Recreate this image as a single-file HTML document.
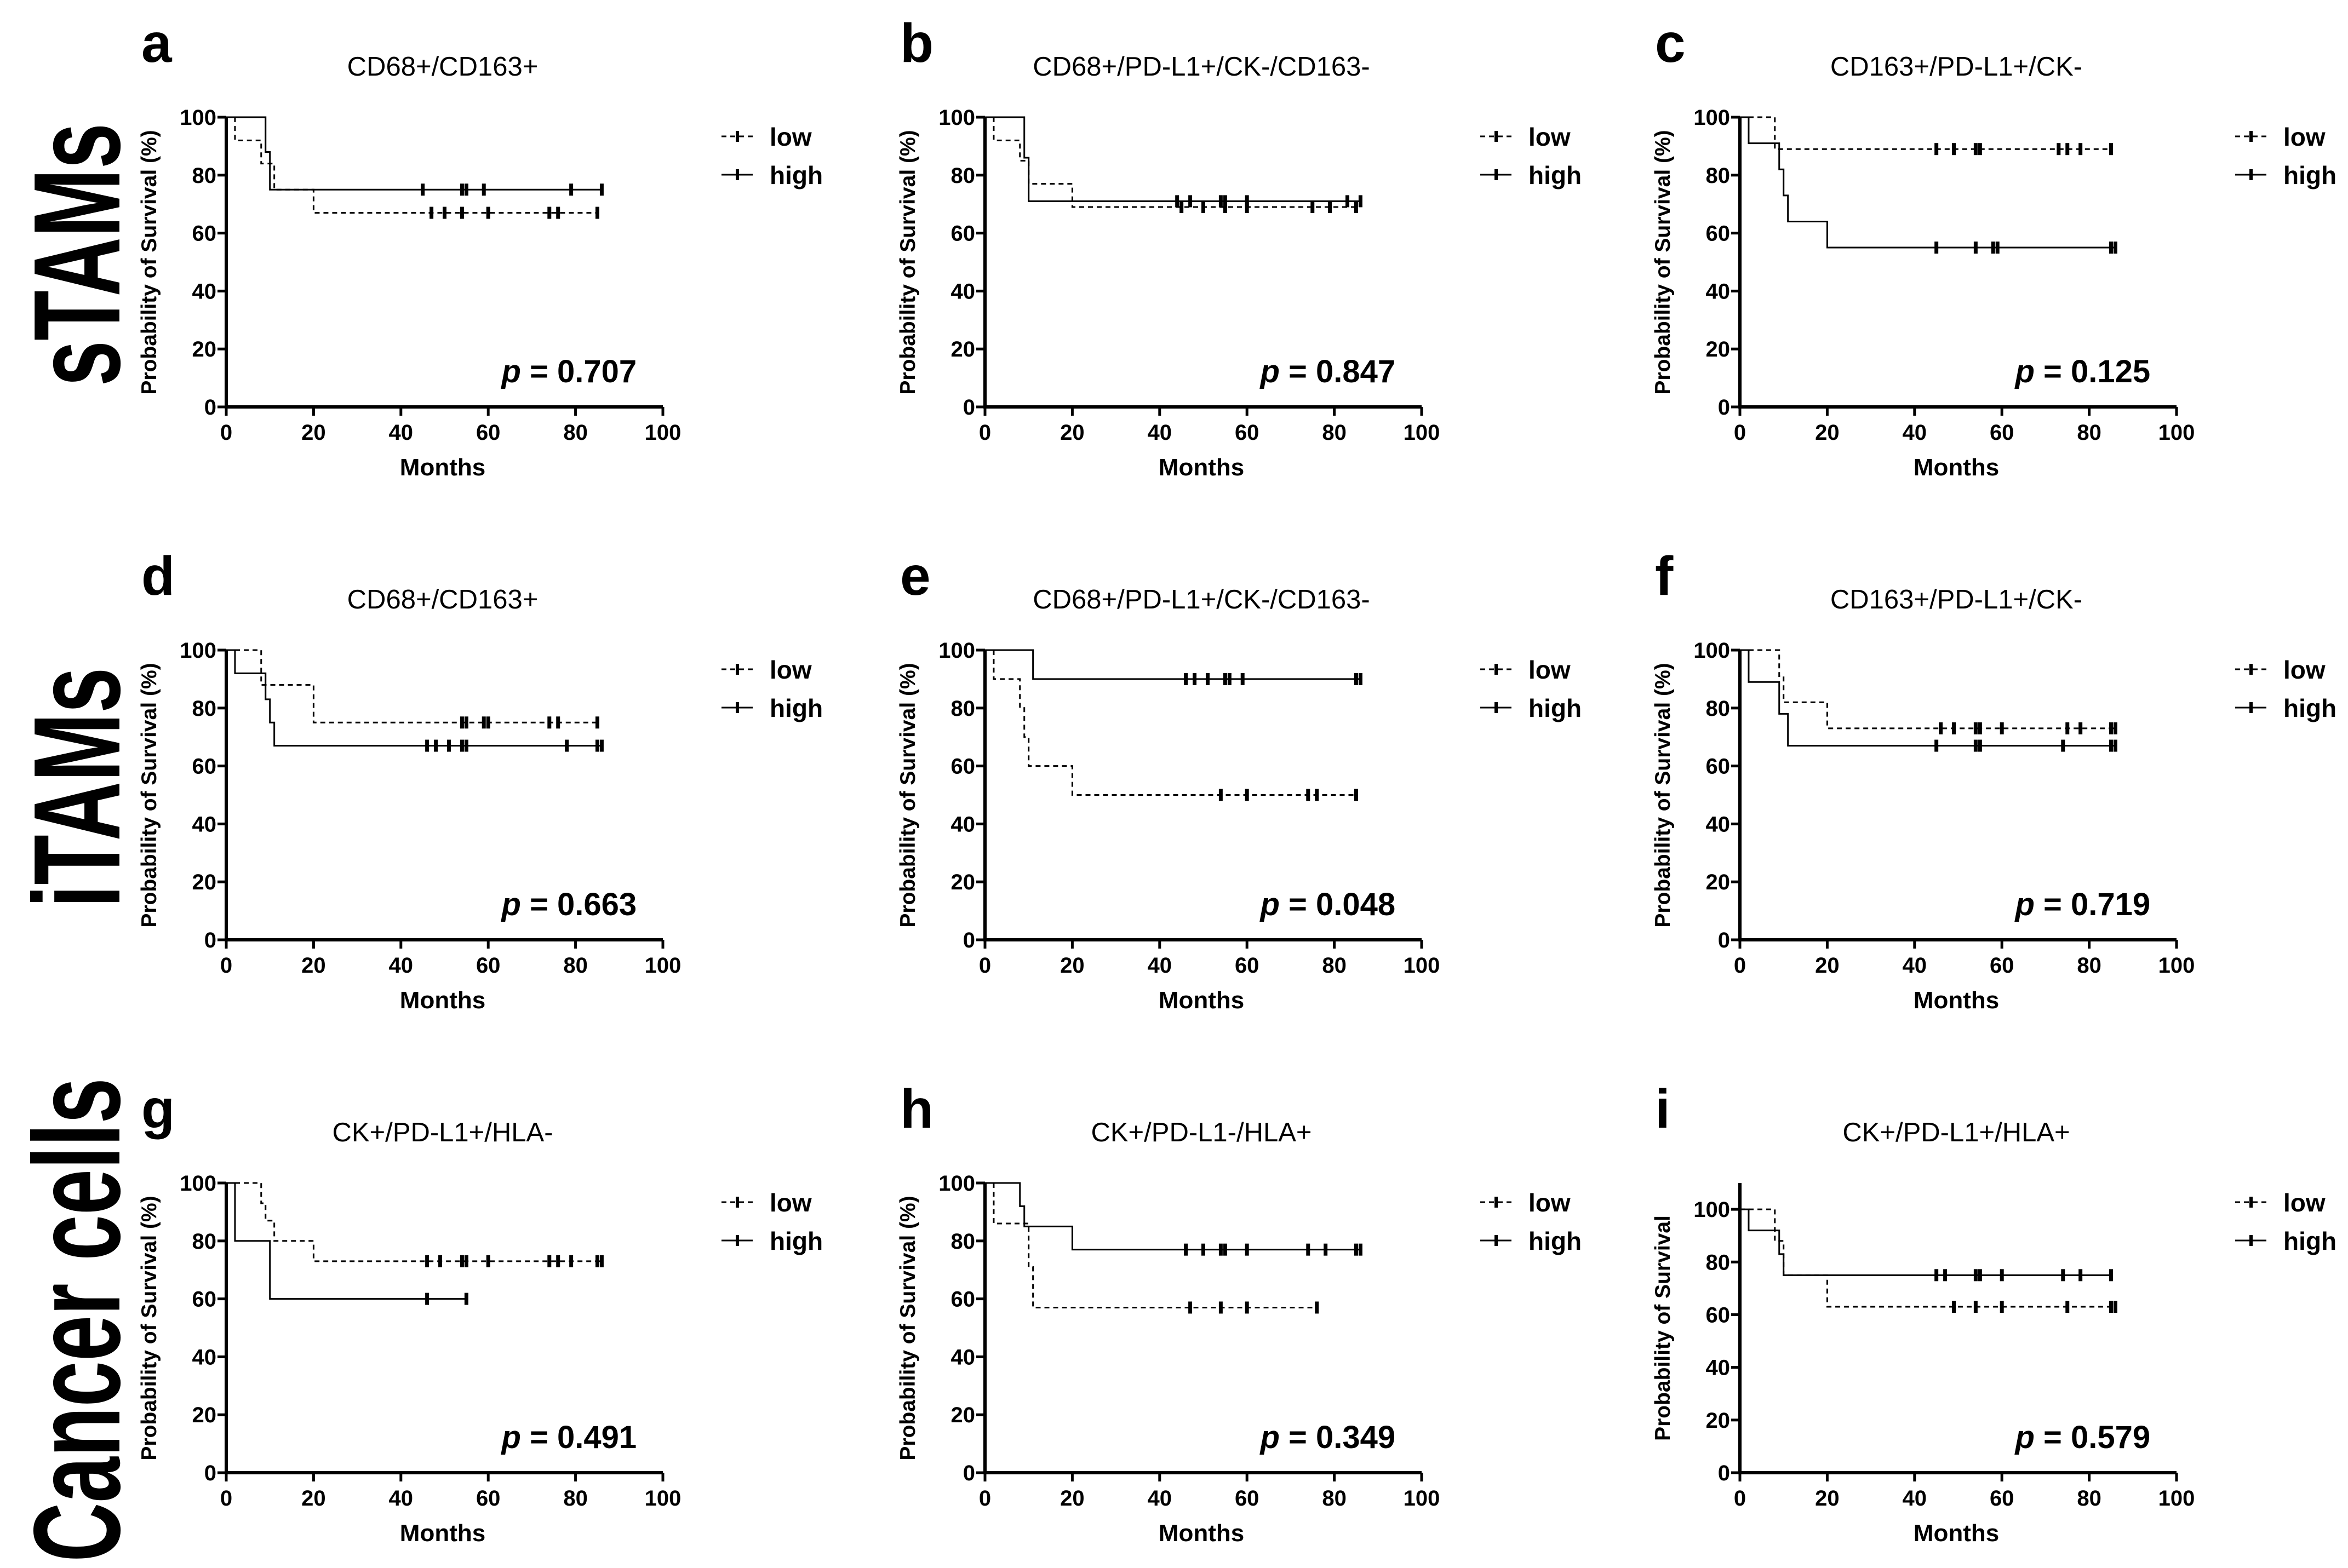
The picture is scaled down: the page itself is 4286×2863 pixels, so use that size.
<!DOCTYPE html>
<html><head><meta charset="utf-8">
<style>
html,body{margin:0;padding:0;background:#fff;}
svg{display:block;font-family:"Liberation Sans",Arial,sans-serif;}
.tick{font-family:"Liberation Sans Narrow","Liberation Sans",sans-serif;font-weight:bold;font-size:40px;}
</style></head>
<body>
<svg id="fig" width="4286" height="2863" viewBox="0 0 4286 2863" xmlns="http://www.w3.org/2000/svg">
<text transform="translate(218,465) rotate(-90) scale(1,1.5)" text-anchor="middle" font-size="150" font-weight="bold">sTAMs</text>
<text transform="translate(218,1438) rotate(-90) scale(1,1.5)" text-anchor="middle" font-size="150" font-weight="bold">iTAMs</text>
<text transform="translate(218,2410) rotate(-90) scale(1,1.5)" text-anchor="middle" font-size="150" font-weight="bold">Cancer cells</text>
</svg>
<script>
// Panel metadata
const panelLetters = ["a","b","c","d","e","f","g","h","i"];
const panelTitles = ["CD68+/CD163+","CD68+/PD-L1+/CK-/CD163-","CD163+/PD-L1+/CK-","CD68+/CD163+","CD68+/PD-L1+/CK-/CD163-","CD163+/PD-L1+/CK-","CK+/PD-L1+/HLA-","CK+/PD-L1-/HLA+","CK+/PD-L1+/HLA+"];
const pValues = ["0.707","0.847","0.125","0.663","0.048","0.719","0.491","0.349","0.579"];
const xTicks = [0,20,40,60,80,100];
const yTicks = [0,20,40,60,80,100];
// low group: step times / survival after step / censor times
const lowTimes = [[2,8,11,20],[2,8,10,20],[8],[8,20],[2,8,9,10,20],[9,10,20],[8,9,11,20],[2,10,11],[8,10,20]];
const lowSurv = [[92,84,75,67],[92,85,77,69],[89],[88,75],[90,80,70,60,50],[91,82,73],[93,87,80,73],[86,71,57],[88,75,63]];
const lowCens = [[47,50,54,60,74,76,85],[45,50,55,60,75,79,85],[45,49,54,55,73,75,78,85],[54,55,59,60,74,76,85],[54,60,74,76,85],[46,49,54,55,60,75,78,85,86],[46,49,54,55,60,74,76,79,85,86],[47,54,60,76],[49,54,60,75,85,86]];
// high group
const highTimes = [[9,10],[9,10],[2,9,10,11,20],[2,9,10,11],[11],[2,9,11],[2,10],[8,9,20],[2,9,10]];
const highSurv = [[88,75],[86,71],[91,82,73,64,55],[92,83,75,67],[90],[89,78,67],[80,60],[92,85,77],[92,83,75]];
const highCens = [[45,54,55,59,79,86],[44,47,54,55,60,83,86],[45,54,58,59,85,86],[46,48,51,54,55,78,85,86],[46,48,51,55,56,59,85,86],[45,54,55,74,85,86],[46,55],[46,50,54,55,60,74,78,85,86],[45,47,54,55,60,74,78,85]];
const yMaxArr = [100,100,100,100,100,100,100,100,110];

const NS="http://www.w3.org/2000/svg";
const svg=document.getElementById('fig');
function mk(tag,attrs,parent){const e=document.createElementNS(NS,tag);for(const k in attrs)e.setAttribute(k,attrs[k]);(parent||svg).appendChild(e);return e;}
const colX=[413,1798,3176], rowY0=[743,1716,2689], plotW=797, plotH100=529;

for(let p=0;p<9;p++){
  const c=p%3,r=Math.floor(p/3);
  const x0=colX[c], y0=rowY0[r];
  const yMax=yMaxArr[p];
  const yTop=y0-plotH100;
  const sx=v=>x0+v/100*plotW;
  const sy=v=>y0-v/yMax*plotH100;
  const g=mk('g',{});
  
  
  let t=mk('text',{x:x0-155,y:y0-630,'font-size':100,'font-weight':'bold'},g);t.textContent=panelLetters[p];
  
  t=mk('text',{x:x0+395,y:y0-605,'font-size':49,'text-anchor':'middle'},g);t.textContent=panelTitles[p];
  
  const ax=mk('path',{d:`M${x0},${yTop} V${y0} H${x0+plotW}`,stroke:'#000','stroke-width':6,fill:'none'},g);
  
  xTicks.forEach(v=>{
    mk('line',{x1:sx(v),x2:sx(v),y1:y0,y2:y0+16,stroke:'#000','stroke-width':5},g);
    const tt=mk('text',{x:sx(v),y:y0+60,'text-anchor':'middle',class:'tick'},g);tt.textContent=v;
    
  });
  yTicks.forEach(v=>{
    mk('line',{x1:x0-16,x2:x0,y1:sy(v),y2:sy(v),stroke:'#000','stroke-width':5},g);
    const tt=mk('text',{x:x0-18,y:sy(v)+14,'text-anchor':'end',class:'tick'},g);tt.textContent=v;
    
  });
  t=mk('text',{x:x0+395,y:y0+125,'text-anchor':'middle','font-size':44,'font-weight':'bold',style:"font-family:'Liberation Sans Narrow','Liberation Sans',sans-serif"},g);t.textContent='Months';
  
  t=mk('text',{transform:`translate(${x0-128},${y0-264}) rotate(-90)`,'text-anchor':'middle','font-size':39,'font-weight':'bold'},g);
  t.textContent= p===8?'Probability of Survival':'Probability of Survival (%)';
  
  t=mk('text',{x:sx(94),y:y0-45,'text-anchor':'end','font-size':58,'font-weight':'bold'},g);
  const ti=mk('tspan',{'font-style':'italic'},t);ti.textContent='p';
  const tr=mk('tspan',{},t);tr.textContent=' = '+pValues[p];
  
  const groups=[[lowTimes[p],lowSurv[p],lowCens[p],'9,7','low'],[highTimes[p],highSurv[p],highCens[p],null,'high']];
  groups.forEach(([times,surv,cens,dash,nm])=>{
    let d=`M${sx(0)},${sy(100)}`;
    times.forEach((tm,i)=>{d+=` H${sx(tm)} V${sy(surv[i])}`;});
    const last=Math.max(...cens,times[times.length-1]);
    d+=` H${sx(last)}`;
    const at={d:d,stroke:'#000','stroke-width':3,fill:'none'};if(dash)at['stroke-dasharray']=dash;
    const path=mk('path',at,g);
    
    
    const sAt=tm=>{let v=100;times.forEach((tt,i)=>{if(tm>=tt)v=surv[i];});return v;};
    cens.forEach(tm=>{
      const m=mk('line',{x1:sx(tm),x2:sx(tm),y1:sy(sAt(tm))-11,y2:sy(sAt(tm))+11,stroke:'#000','stroke-width':7},g);
      
      
    });
  });
  [['low','9,7',35],['high',null,105]].forEach(([lb,dash,dy])=>{
    const ly=y0-plotH100+dy, lx=x0+904;
    const at={x1:lx,x2:lx+57,y1:ly,y2:ly,stroke:'#000','stroke-width':3};if(dash)at['stroke-dasharray']=dash;
    mk('line',at,g);
    mk('line',{x1:lx+29,x2:lx+29,y1:ly-10,y2:ly+10,stroke:'#000','stroke-width':6},g);
    const lt=mk('text',{x:lx+88,y:ly+17,'font-size':46,'font-weight':'bold'},g);lt.textContent=lb;
    
    
  });
}
</script>
</body></html>
